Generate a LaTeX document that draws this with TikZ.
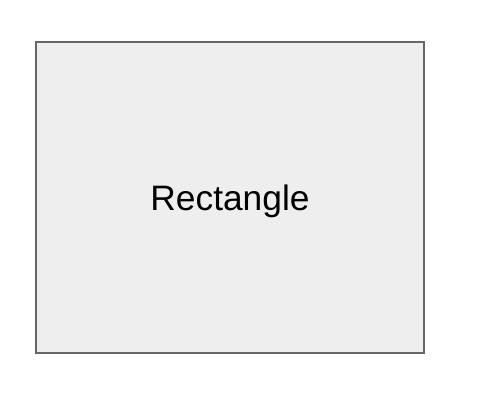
\documentclass[tikz,border=0pt]{standalone}
\usepackage{fontspec}
\setmainfont{Liberation Sans}
\usepackage{tikz}
\usetikzlibrary{positioning}
\definecolor{Edge}{HTML}{666666}
\definecolor{Fill}{HTML}{EEEEEE}

\begin{document}
\begin{tikzpicture}[x=0.75pt,y=0.75pt,
    box/.style={draw=Edge,fill=Fill,line width=1.5pt,minimum width=291pt,
      minimum height=233.25pt,inner sep=0pt,text depth=0pt,
      font=\fontsize{26.5}{31}\selectfont}
  ]
    \useasboundingbox (0,0) rectangle (484,412);
    \node[box] (rect) at (230,214.5) {Rectangle};
  \end{tikzpicture}
\end{document}
